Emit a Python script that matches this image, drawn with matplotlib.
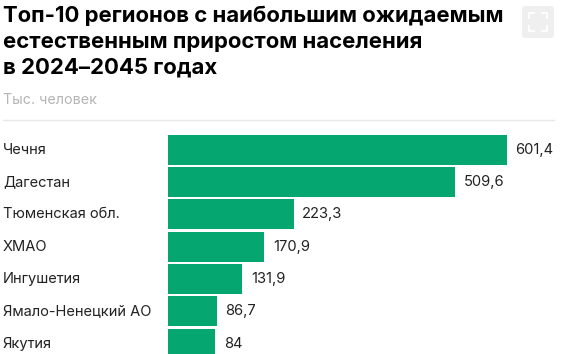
import matplotlib
matplotlib.use("Agg")
import matplotlib.pyplot as plt
from matplotlib.patches import FancyBboxPatch
from matplotlib.lines import Line2D

regions = ["Чечня", "Дагестан", "Тюменская обл.", "ХМАО", "Ингушетия", "Ямало-Ненецкий АО", "Якутия"]
values = [601.4, 509.6, 223.3, 170.9, 131.9, 86.7, 84]
value_labels = ["601,4", "509,6", "223,3", "170,9", "131,9", "86,7", "84"]
title_lines = ["Топ-10 регионов с наибольшим ожидаемым", "естественным приростом населения", "в 2024–2045 годах"]
subtitle = "Тыс. человек"

W, H = 569, 354
plt.rcParams["font.family"] = ["Inter", "DejaVu Sans"]

fig = plt.figure(figsize=(W / 100, H / 100), dpi=100)


def fx(px):
    return px / W


def fy(py):
    return 1 - py / H


# axes runs from the first bar's left edge to the bottom of the crop
ax_top = 125
ax = fig.add_axes([fx(168), 0, 1 - fx(168), fy(ax_top)])
px_per_unit = 339 / 601.4
pitch = 32.35
ax.set_xlim(0, (W - 168) / px_per_unit)
ax.set_ylim((H - 149.5) / pitch, (ax_top - 149.5) / pitch)
ax.barh(range(len(values)), values, height=30 / pitch, color="#05a66f")
for i, v in enumerate(values):
    ax.text(v + 8.5 / px_per_unit, i, value_labels[i], va="center", ha="left", fontsize=10.6, color="#222222")
    ax.text(-165 / px_per_unit, i, regions[i], va="center", ha="left", fontsize=10.55, color="#222222", clip_on=False)
ax.axis("off")

for line, py in zip(title_lines, [15.5, 41.5, 67.5]):
    fig.text(fx(3), fy(py), line, fontsize=15.95, fontweight="bold", color="#000000", va="center", ha="left")
fig.text(fx(3), fy(100), subtitle, fontsize=10.3, color="#b5b5b5", va="center", ha="left")
fig.add_artist(Line2D([fx(3), fx(554)], [fy(119.5)] * 2, color="#e8e8e8", lw=1))

# expand button in the top right corner
fig.add_artist(FancyBboxPatch((522, H - 38), 32, 32, boxstyle="round,pad=0,rounding_size=3",
                              transform=None, facecolor="#efefef", edgecolor="none"))
for x0, y0, dx, dy in [(529, 13, 1, 1), (547, 13, -1, 1), (529, 31, 1, -1), (547, 31, -1, -1)]:
    xs = [fx(x0 + dx * 5), fx(x0), fx(x0)]
    ys = [fy(y0), fy(y0), fy(y0 + dy * 5)]
    fig.add_artist(Line2D(xs, ys, color="#ffffff", lw=1.3))

fig.savefig("out.png", dpi=100)
